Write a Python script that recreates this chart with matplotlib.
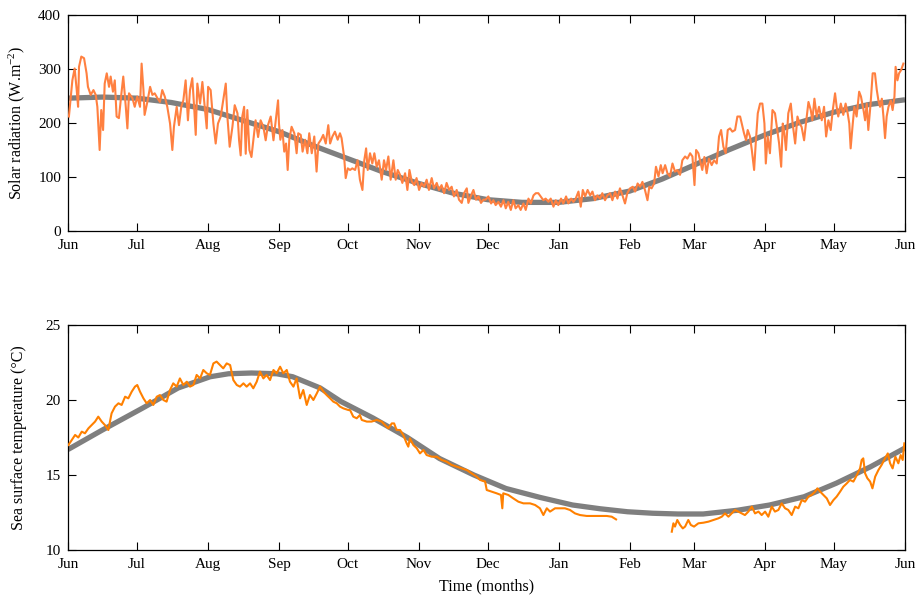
import numpy as np
import matplotlib
matplotlib.use("Agg")
import matplotlib.pyplot as plt

plt.rcParams['font.family'] = ['Liberation Serif', 'DejaVu Serif']
plt.rcParams['mathtext.fontset'] = 'custom'
plt.rcParams['mathtext.rm'] = 'Liberation Serif'
plt.rcParams['mathtext.it'] = 'Liberation Serif:italic'

# ---------------- month ticks (days since 1 June) ----------------
month_days = [0, 30, 61, 92, 122, 153, 183, 214, 245, 273, 304, 334, 365]
month_labels = ['Jun', 'Jul', 'Aug', 'Sep', 'Oct', 'Nov', 'Dec', 'Jan', 'Feb', 'Mar', 'Apr', 'May', 'Jun']

# ---------------- solar radiation: fitted seasonal curve ----------------
sr_fit_day = [0, 15, 30, 45, 61, 76, 92, 107, 122, 137, 153, 168, 183, 198, 214, 229,
              245, 259, 273, 288, 304, 319, 334, 349, 365]
sr_fit_val = [246, 248, 246, 238, 225, 205, 184, 158, 134, 110, 88, 70, 58, 53, 53, 60,
              74, 96, 122, 150, 178, 201, 220, 234, 243]

# ---------------- solar radiation: daily observations ----------------
sr_day_a = [0.4, 1.9, 2.9, 3.8, 4.4, 4.8, 5.8, 7.0, 8.1, 8.7, 9.9, 11.1, 12.1, 12.8, 13.8, 14.5,
            15.3, 16.0, 16.9, 17.9, 18.6, 19.6, 20.4, 21.2, 22.2, 23.3, 24.1, 25.2, 25.9, 26.6,
            28.1, 29.1, 30.2, 31.4, 32.1, 32.9, 33.4, 34.6, 35.8, 36.8, 37.8, 39.0, 40.1, 41.1,
            42.2, 43.3, 44.5, 45.5, 46.2, 47.4, 48.4, 49.4, 50.3, 51.3, 52.3, 53.2, 54.2, 55.0,
            55.7, 56.4, 57.6, 58.6, 59.6, 60.5, 61.1, 62.2, 63.4, 64.4, 65.4, 66.6, 67.7, 68.8,
            69.5, 70.5, 71.7, 72.7, 73.9, 74.6, 75.3, 76.0, 76.8, 77.5, 78.2, 79.1, 80.0, 80.8,
            81.8, 82.9, 84.0, 85.2, 86.2, 87.2, 88.4, 89.6, 90.6, 91.6]
sr_val_a = [212, 279, 301, 261, 230, 304, 323, 320, 292, 267, 252, 261, 252, 230, 150, 224,
            187, 273, 292, 267, 286, 258, 279, 212, 209, 255, 286, 230, 190, 255,
            246, 230, 249, 230, 310, 261, 215, 239, 267, 252, 255, 246, 239, 261,
            249, 230, 199, 150, 193, 230, 196, 230, 242, 279, 205, 261, 283, 230,
            178, 273, 236, 276, 230, 190, 267, 261, 199, 162, 199, 212, 242, 273,
            212, 156, 193, 233, 218, 168, 140, 212, 230, 143, 224, 150, 137, 168,
            205, 174, 205, 193, 168, 196, 212, 168, 205, 242]

sr_day_b = [92.0, 92.6, 93.5, 94.3, 95.1, 95.8, 96.5, 97.5, 98.7, 99.7, 100.4, 101.5, 102.3,
            103.4, 104.4, 105.2, 106.3, 107.4, 108.4, 109.2, 110.3, 111.3, 112.4, 113.5, 114.3,
            115.3, 116.4, 117.6, 118.6, 119.3, 120.4, 121.1, 122.0, 123.0, 124.0, 125.2, 126.3,
            127.3, 128.4, 129.2, 130.0, 130.7, 131.7, 132.7, 133.6, 134.6, 135.6, 136.8, 137.8,
            138.7, 139.7, 140.7, 141.9, 142.9, 143.8, 144.8, 145.8, 147.0, 148.0, 148.9, 149.9,
            151.0, 152.0, 153.1, 154.2, 155.3, 156.4, 157.4, 158.6, 159.6, 160.8, 161.8, 162.9,
            164.0, 165.1, 166.2, 167.3, 168.3, 169.5, 170.5, 171.7, 172.7, 173.9, 174.6, 175.6,
            176.8, 177.9, 179.0, 180.1, 181.1, 182.1, 183.3]
sr_val_b = [199, 169, 187, 147, 162, 113, 169, 193, 181, 144, 181, 178, 147,
            169, 144, 181, 144, 175, 110, 162, 169, 178, 162, 196, 162,
            175, 184, 169, 181, 172, 138, 98, 116, 113, 116, 113, 131,
            95, 76, 131, 153, 113, 144, 125, 144, 119, 131, 95, 131,
            113, 138, 95, 131, 95, 113, 104, 89, 107, 76, 113, 92,
            85, 98, 76, 89, 82, 95, 76, 98, 79, 89, 76, 85,
            70, 89, 76, 82, 64, 76, 58, 52, 70, 79, 52, 64,
            76, 58, 64, 52, 58, 58, 64]

sr_day_c = [184.5, 185.5, 186.5, 187.7, 188.8, 189.9, 190.9, 192.0, 193.1, 194.2, 195.2, 196.4,
            197.4, 198.6, 199.6, 200.8, 201.8, 203.0, 204.0, 205.1, 206.1, 207.3, 208.3, 209.5,
            210.5, 211.7, 212.7, 213.8, 215.0, 216.0, 217.2, 218.2, 219.4, 220.4, 221.4, 222.6,
            223.6, 224.5, 225.5, 226.6, 227.7, 228.7, 229.8, 230.8, 232.0, 233.0, 234.2, 235.2,
            236.4, 237.4, 238.6, 239.6, 240.7, 241.8, 242.9, 243.9, 245.1, 246.3, 247.3, 248.4,
            249.5, 250.5, 251.6, 252.7, 253.5, 254.5, 255.6, 256.4, 257.5, 258.5, 259.3, 260.4,
            261.4, 262.5, 263.6, 264.7, 265.7, 266.9, 267.9, 269.1, 270.1, 271.3, 272.3, 273.2,
            273.9, 274.9]
sr_val_c = [51, 57, 48, 54, 45, 57, 42, 54, 39, 57, 42, 48,
            39, 51, 39, 60, 51, 66, 70, 70, 64, 57, 60, 54,
            60, 45, 57, 48, 60, 51, 64, 51, 60, 54, 60, 73,
            45, 76, 64, 76, 66, 73, 57, 66, 60, 70, 57, 66,
            70, 57, 73, 60, 79, 66, 51, 70, 79, 82, 73, 88,
            82, 91, 76, 57, 82, 79, 88, 119, 101, 122, 107, 122,
            107, 101, 125, 110, 113, 104, 131, 138, 134, 144, 138, 85,
            150, 144]

sr_day_d = [275.6, 276.6, 277.5, 278.5, 279.5, 280.7, 281.7, 282.9, 283.9, 284.8, 285.8, 286.8,
            287.7, 288.7, 289.7, 290.9, 291.9, 293.1, 293.8, 294.8, 295.7, 296.4, 297.4, 298.2,
            299.2, 299.9, 300.8, 301.8, 302.8, 303.7, 304.3, 305.1, 306.1, 307.2, 308.3, 309.3,
            310.1, 311.0, 311.7, 312.4, 313.1, 314.1, 315.2, 316.0, 317.1, 318.1, 319.0, 319.9,
            321.0, 321.8, 322.9, 323.9, 324.6, 325.5, 326.5, 327.5, 328.7, 329.7, 330.6, 331.6,
            332.6, 333.5, 334.5, 335.2, 335.9, 337.0, 338.1, 339.1, 340.0, 340.7, 341.3, 342.1,
            342.9, 343.9, 345.0, 345.8, 346.9, 347.6, 348.3, 349.0, 350.0, 350.9, 351.9, 352.7,
            353.4, 354.1, 354.9, 355.6, 356.3, 357.0, 357.8, 358.8, 359.6, 360.4, 360.9, 361.7,
            362.4, 363.3, 364.3]
sr_val_d = [131, 113, 137, 107, 134, 122, 131, 125, 175, 187, 156, 144,
            187, 190, 184, 187, 212, 212, 199, 181, 168, 187, 175, 150,
            113, 162, 218, 236, 236, 199, 125, 175, 144, 224, 218, 187,
            162, 119, 199, 181, 150, 218, 236, 199, 162, 212, 199, 193,
            168, 199, 239, 224, 205, 245, 212, 230, 205, 230, 175, 205,
            187, 224, 255, 230, 212, 236, 215, 236, 218, 199, 153, 193,
            230, 212, 258, 249, 224, 205, 236, 187, 236, 292, 292, 261,
            242, 230, 245, 212, 172, 212, 230, 242, 224, 249, 304, 279,
            292, 298, 310]

# ---------------- sea surface temperature: fitted seasonal curve ----------------
sst_fit_day = [0, 15, 33, 48, 62, 70, 80, 91, 98, 110, 119, 133, 148, 162, 177, 191, 206,
               220, 232, 244, 255, 266, 277, 292, 306, 321, 335, 350, 365]
sst_fit_val = [16.7, 18.0, 19.5, 20.8, 21.55, 21.75, 21.8, 21.75, 21.55, 20.8, 19.9, 18.8,
               17.5, 16.1, 15.0, 14.1, 13.5, 13.0, 12.75, 12.55, 12.45, 12.4, 12.4, 12.65,
               13.0, 13.55, 14.45, 15.55, 16.8]

# ---------------- sea surface temperature: observations ----------------
sst_day_a = [0.2, 1.6, 3.1, 4.5, 6.0, 7.4, 8.9, 10.3, 11.8, 13.2, 14.7, 16.1, 17.6, 19.0, 20.5,
             22.0, 23.4, 24.9, 26.3, 27.8, 29.2, 30.2, 31.4, 32.9, 34.3, 35.8, 37.2, 38.7, 40.1,
             41.6, 43.0, 44.5, 45.9, 47.4, 48.8, 50.3, 51.8, 53.2, 54.7, 56.1, 57.6, 59.0, 60.5,
             61.9, 63.4, 64.8, 66.3, 67.7, 69.2, 70.7, 72.1, 73.6, 75.0, 76.5, 77.9, 79.4, 80.8,
             82.3, 83.7, 85.2, 86.6, 88.1, 89.6, 91.0, 92.5, 93.9, 95.4, 96.8, 98.3, 99.7, 101.2,
             102.6, 104.1, 105.5, 107.0, 108.5, 109.9, 111.4, 112.8, 114.3, 115.7, 117.2, 118.6,
             120.1, 122.3]
sst_val_a = [17.0, 17.33, 17.67, 17.5, 17.89, 17.78, 18.11, 18.33, 18.56, 18.89, 18.56, 18.33,
             18.0, 19.11, 19.56, 19.78, 19.67, 20.22, 20.11, 20.56, 20.89, 21.0, 20.56, 20.11,
             19.78, 20.0, 19.67, 20.22, 20.33, 20.0, 19.89, 20.67, 21.11, 20.89, 21.44, 21.0,
             21.22, 20.89, 21.0, 21.67, 21.44, 22.0, 21.78, 21.67, 22.44, 22.56, 22.33, 22.11,
             22.44, 22.33, 21.33, 21.0, 20.89, 21.11, 20.89, 21.11, 20.78, 21.22, 21.89, 21.44,
             21.67, 21.33, 22.0, 21.78, 22.22, 21.78, 22.0, 21.22, 20.89, 21.44, 20.11, 20.67,
             19.67, 20.33, 20.0, 20.44, 20.89, 20.56, 20.33, 20.11, 19.89, 19.78, 19.56, 19.44,
             19.33]

sst_day_b = [123.0, 124.4, 125.9, 127.3, 128.1, 130.3, 132.4, 134.6, 136.8, 138.2, 139.7, 141.2,
             142.2, 143.3, 144.8, 146.2, 147.7, 148.4, 149.1, 150.6, 152.1, 153.5, 155.0, 156.4,
             158.6, 160.8, 163.0, 165.1, 167.3, 169.5, 171.7, 173.9, 176.0, 178.2, 179.7, 181.9,
             182.6, 184.8, 186.9, 188.8, 189.4, 189.8, 192.0, 194.2, 196.4, 198.6, 201.5, 203.7,
             205.8, 207.3, 208.8, 210.2, 212.4, 214.6, 216.7, 218.9, 221.1, 223.3, 226.2, 229.1,
             232.0, 234.9, 237.1, 239.0]
sst_val_b = [19.33, 18.89, 18.78, 19.0, 18.67, 18.56, 18.56, 18.67, 18.56, 18.33, 18.11, 18.44,
             18.44, 18.0, 18.0, 17.67, 17.11, 16.89, 17.44, 17.0, 16.78, 16.44, 16.67, 16.33,
             16.22, 16.22, 16.0, 15.89, 15.67, 15.56, 15.44, 15.33, 15.11, 14.89, 14.67, 14.56,
             14.0, 13.89, 13.78, 13.67, 12.78, 13.78, 13.67, 13.44, 13.22, 13.11, 13.11, 13.0,
             12.78, 12.33, 12.78, 12.56, 12.78, 12.78, 12.78, 12.67, 12.44, 12.33, 12.27, 12.27,
             12.27, 12.27, 12.22, 12.04]

sst_day_c = [263.3, 264.0, 264.7, 265.7, 266.9, 268.1, 269.1, 270.5, 271.6, 273.0, 274.9, 277.1,
             279.3, 281.4, 283.6, 285.1, 286.5, 288.0, 289.4, 290.9, 292.3, 293.8, 295.2, 296.7,
             298.2, 299.6, 301.1, 302.5, 304.0, 305.4, 306.9, 308.3, 309.8, 311.2, 312.7, 314.1,
             315.6, 317.1, 318.5, 320.0, 321.4, 322.9, 324.3, 325.8, 326.8, 328.0, 329.4, 330.9,
             332.3, 333.8, 335.2, 336.7, 338.1, 339.6, 341.0, 342.5, 344.0, 345.4, 346.1, 346.8,
             347.6, 348.6, 349.8, 350.8, 352.0, 353.4, 354.8, 356.3, 357.5, 358.5, 359.6, 360.8,
             362.1, 363.1, 364.0, 364.7]
sst_val_c = [11.22, 11.78, 11.56, 12.0, 11.67, 11.44, 11.56, 12.0, 11.67, 11.56, 11.78, 11.82,
             11.89, 12.0, 12.11, 12.22, 12.44, 12.22, 12.44, 12.67, 12.56, 12.44, 12.33, 12.56,
             12.89, 12.44, 12.56, 12.33, 12.56, 12.22, 12.89, 12.56, 12.67, 13.11, 12.78, 12.67,
             12.33, 12.89, 12.78, 13.33, 13.22, 13.56, 13.67, 13.89, 14.11, 13.89, 13.67, 13.44,
             13.0, 13.33, 13.56, 13.89, 14.22, 14.44, 14.67, 14.56, 15.0, 15.44, 16.0, 16.11,
             15.11, 14.78, 14.56, 14.11, 14.89, 15.33, 15.67, 16.11, 16.44, 15.78, 15.44, 16.22,
             15.78, 16.33, 16.0, 17.11]

# ---------------- styling ----------------
GRAY = '#7f7f7f'
ORANGE_SR = '#ff8040'
ORANGE_SST = '#ff8000'
FS_TICK = 11
FS_LABEL = 11.5

fig = plt.figure(figsize=(9.21, 6.01), dpi=100)
W, H = 921.0, 601.0
ax1 = fig.add_axes([68 / W, (H - 231) / H, 837 / W, 216 / H])
ax2 = fig.add_axes([68 / W, (H - 550) / H, 837 / W, 225 / H])


def style(ax):
    ax.set_xlim(0, 365)
    ax.set_xticks(month_days)
    ax.set_xticklabels(month_labels)
    ax.tick_params(direction='in', length=5.5, width=0.8, top=True, right=True,
                   labelsize=FS_TICK, colors='black')
    ax.tick_params(axis='x', pad=6)
    ax.tick_params(axis='y', pad=5)
    for s in ax.spines.values():
        s.set_linewidth(0.9)
        s.set_color('black')


# top panel
ax1.plot(sr_fit_day, sr_fit_val, color=GRAY, lw=3.8, solid_capstyle='butt', zorder=2)
sr_day = sr_day_a + sr_day_b + sr_day_c + sr_day_d
sr_val = sr_val_a + sr_val_b + sr_val_c + sr_val_d
ax1.plot(sr_day, sr_val, color=ORANGE_SR, lw=1.5, zorder=3)
ax1.set_ylim(0, 400)
ax1.set_yticks([0, 100, 200, 300, 400])
style(ax1)
ax1.set_ylabel(r'Solar radiation (W.m$^{-2}$)', fontsize=FS_LABEL)
ax1.yaxis.set_label_coords(-0.049, 0.5)

# bottom panel
ax2.plot(sst_fit_day, sst_fit_val, color=GRAY, lw=3.8, solid_capstyle='butt', zorder=2)
sst_day = sst_day_a + sst_day_b + [np.nan] + sst_day_c
sst_val = sst_val_a + sst_val_b + [np.nan] + sst_val_c
ax2.plot(sst_day, sst_val, color=ORANGE_SST, lw=1.5, zorder=3)
ax2.set_ylim(10, 25)
ax2.set_yticks([10, 15, 20, 25])
style(ax2)
ax2.set_ylabel('Sea surface temperature (°C)', fontsize=FS_LABEL)
ax2.yaxis.set_label_coords(-0.049, 0.5)
ax2.set_xlabel('Time (months)', fontsize=FS_LABEL)
ax2.xaxis.set_label_coords(0.5, -0.125)

fig.savefig('out.png', dpi=100)
